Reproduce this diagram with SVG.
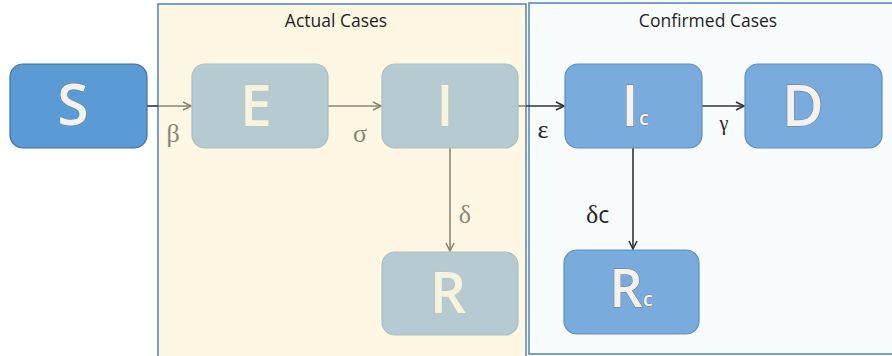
<svg xmlns="http://www.w3.org/2000/svg" width="892" height="356" viewBox="0 0 892 356">
  <style>
    .panelA { fill: #fef7e4; stroke: #4f81bd; stroke-width: 1.5; }
    .panelC { fill: #f9fcfd; stroke: #4f81bd; stroke-width: 1.5; }
    .title { font-family: "Open Sans", "Liberation Sans", sans-serif; font-size: 17.5px; fill: #1f1f1f; text-anchor: middle; }
    .nodeS { fill: #5b9bd5; stroke: #41719c; stroke-width: 1.2; }
    .nodeG { fill: #b6cbd1; stroke: #a9bfc2; stroke-width: 1.2; }
    .nodeB { fill: #79acdc; stroke: #5a8fc4; stroke-width: 1.2; }
    .big { font-family: "Open Sans", "Liberation Sans", sans-serif; font-weight: 600; font-size: 57px; text-anchor: middle; stroke-width: 1; paint-order: stroke; }
    .sub { font-family: "Open Sans", "Liberation Sans", sans-serif; font-weight: 600; font-size: 20px; stroke-width: 0.8; paint-order: stroke; }
    .lt { fill: #f2f2f2; stroke: #7a7a7a; }
    .lg { fill: #f7f3e1; stroke: #c4c2ae; }
    .greek { font-family: "Liberation Serif", "DejaVu Serif", serif; font-size: 26px; }
    .gk { fill: #8a8676; }
    .dk { fill: #262626; }
    .lineG { stroke: #8a8676; stroke-width: 1.6; fill: none; }
    .lineD { stroke: #333333; stroke-width: 1.6; fill: none; }
  </style>
  <defs>
    <marker id="arrG" viewBox="0 0 10 10" refX="9" refY="5" markerWidth="10" markerHeight="10" markerUnits="userSpaceOnUse" orient="auto">
      <path d="M1,1 L9,5 L1,9" fill="none" stroke="#8a8676" stroke-width="1.6"/>
    </marker>
    <marker id="arrD" viewBox="0 0 10 10" refX="9" refY="5" markerWidth="10" markerHeight="10" markerUnits="userSpaceOnUse" orient="auto">
      <path d="M1,1 L9,5 L1,9" fill="none" stroke="#333333" stroke-width="1.6"/>
    </marker>
  </defs>

  <g id="panel-actual">
    <rect class="panelA" x="158" y="4" width="368" height="360"/>
    <text class="title" x="336" y="27">Actual Cases</text>
  </g>
  <g id="panel-confirmed">
    <rect class="panelC" x="529" y="3" width="370" height="351"/>
    <text class="title" x="708" y="27">Confirmed Cases</text>
  </g>

  <g id="connectors">
    <line class="lineD" x1="147" y1="106" x2="158" y2="106"/>
    <line class="lineG" x1="158" y1="106" x2="191" y2="106" marker-end="url(#arrG)"/>
    <line class="lineG" x1="328" y1="106" x2="381" y2="106" marker-end="url(#arrG)"/>
    <line class="lineG" x1="518" y1="106" x2="526" y2="106"/>
    <line class="lineD" x1="526" y1="106" x2="564" y2="106" marker-end="url(#arrD)"/>
    <line class="lineD" x1="702" y1="106" x2="744" y2="106" marker-end="url(#arrD)"/>
    <line class="lineG" x1="450" y1="148" x2="450" y2="251" marker-end="url(#arrG)"/>
    <line class="lineD" x1="633" y1="148" x2="633" y2="249" marker-end="url(#arrD)"/>
    <text class="greek gk" x="173" y="142" text-anchor="middle">β</text>
    <text class="greek gk" x="360" y="142" text-anchor="middle">σ</text>
    <text class="greek dk" x="543" y="138" text-anchor="middle">ε</text>
    <text class="greek dk" x="724" y="130" text-anchor="middle" style="font-size:20px">γ</text>
    <text class="greek gk" x="465" y="223" text-anchor="middle">δ</text>
    <text class="dk" x="586" y="223"><tspan class="greek">δ</tspan><tspan style="font-family:'Open Sans','Liberation Sans',sans-serif;font-size:23px">c</tspan></text>
  </g>

  <g id="node-S">
    <rect class="nodeS" x="10" y="64" width="137" height="84" rx="13"/>
    <text class="big lt" x="73" y="125">S</text>
  </g>
  <g id="node-E">
    <rect class="nodeG" x="192" y="64" width="136" height="84" rx="13"/>
    <text class="big lg" x="256" y="126">E</text>
  </g>
  <g id="node-I">
    <rect class="nodeG" x="382" y="64" width="136" height="84" rx="13"/>
    <text class="big lg" x="445" y="126">I</text>
  </g>
  <g id="node-Ic">
    <rect class="nodeB" x="565" y="64" width="137" height="84" rx="13"/>
    <text class="big lt" x="630" y="126">I</text>
    <text class="sub lt" x="639" y="125">c</text>
  </g>
  <g id="node-D">
    <rect class="nodeB" x="745" y="64" width="137" height="84" rx="13"/>
    <text class="big lt" x="803" y="126">D</text>
  </g>
  <g id="node-R">
    <rect class="nodeG" x="382" y="252" width="136" height="83" rx="13"/>
    <text class="big lg" x="448" y="313">R</text>
  </g>
  <g id="node-Rc">
    <rect class="nodeB" x="564" y="250" width="135" height="84" rx="13"/>
    <text class="big lt" x="626" y="307" style="font-size:52px">R</text>
    <text class="sub lt" x="643" y="306">c</text>
  </g>
</svg>
